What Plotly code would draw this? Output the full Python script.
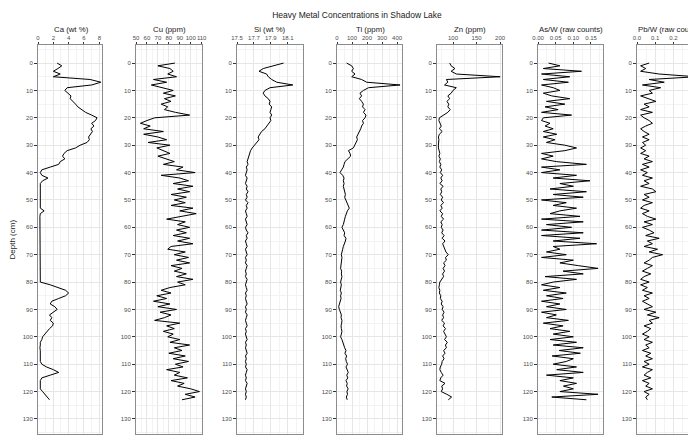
import plotly.graph_objects as go

depth_cm = [0, 1, 2, 3, 4, 5, 6, 7, 8, 9, 10, 11, 12, 13, 14, 15, 16, 17, 18, 19,
            20, 21, 22, 23, 24, 25, 26, 27, 28, 29, 30, 31, 32, 33, 34, 35, 36, 37, 38, 39,
            40, 41, 42, 43, 44, 45, 46, 47, 48, 49, 50, 51, 52, 53, 54, 55, 56, 57, 58, 59,
            60, 61, 62, 63, 64, 65, 66, 67, 68, 69, 70, 71, 72, 73, 74, 75, 76, 77, 78, 79,
            80, 81, 82, 83, 84, 85, 86, 87, 88, 89, 90, 91, 92, 93, 94, 95, 96, 97, 98, 99,
            100, 101, 102, 103, 104, 105, 106, 107, 108, 109, 110, 111, 112, 113, 114, 115,
            116, 117, 118, 119, 120, 121, 122, 123]

ca_wt = [2.5, 3.1, 2.6, 2.0, 2.9, 2.0, 6.8, 8.2, 7.0, 3.8,
         3.5, 3.9, 4.3, 4.2, 4.6, 4.9, 5.2, 5.7, 6.2, 7.0,
         7.7, 7.5, 7.0, 7.3, 6.9, 7.1, 6.8, 6.6, 6.7, 6.4,
         5.5, 4.9, 3.8, 3.4, 3.2, 3.5, 2.9, 2.7, 1.6, 0.5,
         0.3, 0.5, 1.3, 0.6, 0.3, 0.3, 0.25, 0.3, 0.25, 0.3,
         0.3, 0.25, 0.3, 0.3, 0.8, 0.3, 0.25, 0.25, 0.3, 0.25,
         0.25, 0.3, 0.25, 0.25, 0.3, 0.25, 0.25, 0.3, 0.25, 0.25,
         0.3, 0.25, 0.25, 0.3, 0.25, 0.25, 0.3, 0.25, 0.25, 0.3,
         0.3, 1.6, 2.7, 3.6, 4.0, 3.6, 2.7, 1.8, 1.6, 2.2,
         2.5, 2.0, 1.5, 1.8, 1.6, 2.0, 1.9, 1.5, 1.2, 0.9,
         0.6, 0.5, 0.3, 0.3, 0.25, 0.3, 0.3, 0.25, 0.3, 0.3,
         0.5, 1.1, 2.0, 2.7, 1.6, 0.5, 0.3, 0.3, 0.35, 0.3,
         0.6, 0.9, 1.3, 1.5]

cu_ppm = [85.5, 70, 81, 84, 79, 87, 66, 78, 64, 75,
          84, 75, 86, 76, 82, 73, 79, 76, 86, 99,
          67, 60, 54, 63, 57, 75, 57, 70, 78, 61,
          81, 69, 76, 81, 70, 78, 85, 75, 93, 87,
          104, 73, 90, 98, 84, 102, 88, 99, 82, 96,
          85, 95, 82, 102, 90, 105, 93, 78, 95, 88,
          99, 87, 96, 84, 99, 88, 102, 82, 79, 95,
          85, 98, 87, 99, 82, 92, 85, 96, 87, 102,
          88, 95, 81, 73, 82, 69, 78, 66, 81, 70,
          87, 72, 82, 76, 67, 90, 78, 85, 75, 84,
          79, 90, 81, 99, 85, 92, 80, 95, 84, 98,
          86, 93, 78, 90, 85, 97, 82, 94, 88, 100,
          108, 95, 104, 92]

si_wt = [18.05, 17.93, 17.81, 17.76, 17.85, 17.87, 17.91, 17.97, 18.16, 17.89,
         17.83, 17.81, 17.83, 17.87, 17.89, 17.88, 17.91, 17.9, 17.89, 17.91,
         17.89, 17.9, 17.88, 17.85, 17.83, 17.79, 17.77, 17.75, 17.76, 17.73,
         17.71, 17.68, 17.66, 17.65, 17.64, 17.63, 17.62, 17.63, 17.61, 17.62,
         17.61, 17.6, 17.62, 17.61, 17.6, 17.62, 17.61, 17.63, 17.61, 17.62,
         17.6, 17.63, 17.61, 17.62, 17.6, 17.61, 17.62, 17.6, 17.61, 17.62,
         17.6, 17.61, 17.63, 17.61, 17.62, 17.6, 17.61, 17.62, 17.6, 17.61,
         17.62, 17.6, 17.61, 17.6, 17.62, 17.61, 17.6, 17.61, 17.6, 17.62,
         17.61, 17.6, 17.61, 17.62, 17.6, 17.61, 17.6, 17.61, 17.62, 17.6,
         17.61, 17.6, 17.62, 17.61, 17.6, 17.61, 17.62, 17.6, 17.61, 17.6,
         17.61, 17.62, 17.6, 17.61, 17.6, 17.61, 17.62, 17.6, 17.61, 17.6,
         17.61, 17.6, 17.62, 17.61, 17.6, 17.61, 17.6, 17.62, 17.61, 17.6,
         17.61, 17.6, 17.61, 17.6]

ti_ppm = [64, 98, 109, 98, 120, 98, 164, 198, 420, 210,
          176, 153, 164, 149, 164, 176, 170, 187, 176, 193,
          187, 170, 176, 164, 158, 149, 136, 131, 136, 127,
          120, 109, 76, 87, 91, 69, 53, 47, 42, 31,
          20, 38, 47, 42, 47, 42, 47, 53, 56, 51,
          60, 64, 76, 82, 69, 60, 56, 51, 47, 42,
          33, 42, 51, 47, 60, 56, 47, 42, 38, 33,
          29, 33, 31, 27, 29, 24, 31, 29, 33, 27,
          24, 29, 27, 22, 29, 24, 27, 22, 20, 11,
          16, 24, 29, 27, 33, 31, 27, 29, 33, 29,
          24, 33, 38, 47, 51, 60, 53, 64, 58, 62,
          70, 60, 68, 75, 65, 72, 60, 68, 64, 74,
          66, 70, 62, 68]

zn_ppm = [93, 96, 104, 96, 107, 200, 86, 89, 82, 107,
          100, 96, 89, 93, 87, 91, 89, 94, 89, 79,
          71, 70, 73, 75, 71, 77, 71, 69, 70, 69,
          69, 69, 70, 72, 70, 73, 71, 74, 72, 76,
          73, 78, 74, 77, 72, 79, 74, 76, 73, 78,
          75, 80, 74, 77, 72, 78, 75, 80, 74, 77,
          75, 79, 76, 81, 77, 83, 78, 80, 82, 85,
          90, 84, 86, 80, 83, 79, 82, 78, 80, 76,
          72, 71, 70, 72, 71, 74, 73, 77, 75, 79,
          77, 81, 78, 80, 76, 82, 79, 84, 80, 83,
          86, 82, 88, 84, 86, 80, 83, 78, 81, 77,
          76, 73, 72, 75, 79, 74, 72, 83, 76, 78,
          75, 87, 97, 90]

as_w = [0.030, 0.062, 0.015, 0.123, 0.010, 0.090, 0.015, 0.086, 0.010, 0.043,
        0.062, 0.015, 0.039, 0.090, 0.024, 0.076, 0.020, 0.057, 0.010, 0.095,
        0.015, 0.010, 0.034, 0.020, 0.043, 0.015, 0.053, 0.015, 0.048, 0.024,
        0.076, 0.109, 0.076, 0.010, 0.043, 0.010, 0.052, 0.137, 0.010, 0.062,
        0.010, 0.109, 0.043, 0.147, 0.062, 0.100, 0.034, 0.137, 0.043, 0.128,
        0.010, 0.080, 0.043, 0.109, 0.062, 0.034, 0.119, 0.010, 0.128, 0.024,
        0.095, 0.010, 0.128, 0.010, 0.119, 0.043, 0.166, 0.043, 0.062, 0.024,
        0.080, 0.010, 0.100, 0.062, 0.114, 0.170, 0.071, 0.128, 0.020, 0.109,
        0.043, 0.010, 0.062, 0.015, 0.080, 0.024, 0.071, 0.010, 0.062, 0.024,
        0.080, 0.010, 0.052, 0.024, 0.086, 0.015, 0.071, 0.034, 0.090, 0.043,
        0.100, 0.034, 0.109, 0.043, 0.128, 0.060, 0.120, 0.040, 0.100, 0.080,
        0.043, 0.109, 0.053, 0.128, 0.024, 0.100, 0.062, 0.109, 0.072, 0.100,
        0.062, 0.170, 0.039, 0.137]

pb_w = [0.067, 0.020, 0.048, 0.020, 0.122, 0.326, 0.067, 0.150, 0.030, 0.130,
        0.067, 0.085, 0.020, 0.067, 0.104, 0.039, 0.067, 0.020, 0.085, 0.020,
        0.039, 0.067, 0.085, 0.048, 0.020, 0.039, 0.067, 0.030, 0.067, 0.030,
        0.048, 0.020, 0.048, 0.020, 0.067, 0.039, 0.085, 0.030, 0.067, 0.020,
        0.057, 0.030, 0.085, 0.039, 0.067, 0.020, 0.085, 0.104, 0.039, 0.067,
        0.030, 0.085, 0.039, 0.020, 0.067, 0.030, 0.057, 0.104, 0.039, 0.085,
        0.030, 0.067, 0.094, 0.048, 0.122, 0.057, 0.085, 0.039, 0.113, 0.067,
        0.141, 0.085, 0.067, 0.039, 0.085, 0.057, 0.030, 0.076, 0.039, 0.020,
        0.067, 0.020, 0.057, 0.030, 0.085, 0.039, 0.067, 0.030, 0.057, 0.085,
        0.039, 0.104, 0.057, 0.122, 0.067, 0.085, 0.039, 0.076, 0.057, 0.030,
        0.067, 0.039, 0.085, 0.048, 0.067, 0.030, 0.076, 0.048, 0.085, 0.039,
        0.067, 0.030, 0.085, 0.057, 0.039, 0.076, 0.030, 0.067, 0.048, 0.085,
        0.039, 0.067, 0.048, 0.057]

panel_titles = ["Ca (wt %)", "Cu (ppm)", "Si (wt %)", "Ti (ppm)", "Zn (ppm)",
                "As/W (raw counts)", "Pb/W (raw counts)"]
series = [ca_wt, cu_ppm, si_wt, ti_ppm, zn_ppm, as_w, pb_w]
x_tickvals = [[0, 2, 4, 6, 8], [50, 60, 70, 80, 90, 100, 110], [17.5, 17.7, 17.9, 18.1],
              [0, 100, 200, 300, 400], [100, 150, 200], [0.00, 0.05, 0.10, 0.15],
              [0.0, 0.1, 0.2, 0.3]]
x_ticktext = [["0", "2", "4", "6", "8"], ["50", "60", "70", "80", "90", "100", "110"],
              ["17.5", "17.7", "17.9", "18.1"], ["0", "100", "200", "300", "400"],
              ["100", "150", "200"], ["0.00", "0.05", "0.10", "0.15"],
              ["0.0", "0.1", "0.2", "0.3"]]
x_ranges = [[0, 8.35], [50, 110.3], [17.5, 18.28], [0, 433], [66, 204], [0, 0.184], [0, 0.325]]
x_minor = [1, 5, 0.1, 50, 25, 0.025, 0.05]
y_tickvals = [0, 10, 20, 30, 40, 50, 60, 70, 80, 90, 100, 110, 120, 130]

# page has an 8px body margin; positions below are in window pixels
OFF = 8
W, H = 696 - OFF, 436 - OFF
lefts = [38, 136, 237, 337, 437, 538, 637]
rights = [102, 202, 303, 402, 502, 603, 696]
top_px, bottom_px = 45 - OFF, 434 - OFF


def fx(px):
    return (px - OFF) / W


FONT = "Liberation Sans, Arial, sans-serif"
GRID = "#e6e6e6"
MINOR = "#f3f3f3"

fig = go.Figure()
layout = dict(
    width=W, height=H, plot_bgcolor="white", paper_bgcolor="white",
    margin=dict(l=0, r=0, t=top_px, b=H - bottom_px, autoexpand=False),
    showlegend=False,
    font=dict(family=FONT, size=6, color="#4d4d4d"),
    title=dict(text="Heavy Metal Concentrations in Shadow Lake", x=fx(357), xanchor="center",
               y=1 - (15 - OFF) / H, yanchor="middle",
               font=dict(size=8.5, color="#1a1a1a", family=FONT)),
)
annotations = []
for i in range(7):
    n = "" if i == 0 else str(i + 1)
    fig.add_trace(go.Scatter(x=series[i], y=depth_cm, mode="lines",
                             line=dict(color="black", width=1),
                             xaxis="x" + n, yaxis="y" + n, hoverinfo="x+y"))
    layout["xaxis" + n] = dict(
        domain=[fx(lefts[i]), min(1.0, fx(rights[i]))], anchor="y" + n, side="top",
        range=x_ranges[i], tickvals=x_tickvals[i], ticktext=x_ticktext[i],
        ticks="outside", ticklen=2, tickcolor="#333", tickwidth=0.8, tickangle=0,
        tickfont=dict(size=6, color="#4d4d4d"), automargin=False,
        showgrid=True, gridcolor=GRID, gridwidth=0.8,
        minor=dict(dtick=x_minor[i], tick0=0, showgrid=True, gridcolor=MINOR, gridwidth=0.6),
        showline=True, mirror=True, linecolor="#8c8c8c", linewidth=1, zeroline=False,
    )
    layout["yaxis" + n] = dict(
        domain=[0, 1], anchor="x" + n, range=[135.5, -6.6], automargin=False,
        tickvals=y_tickvals, ticks="outside", ticklen=3, tickcolor="#333", tickwidth=0.8,
        tickfont=dict(size=6, color="#4d4d4d"),
        showgrid=True, gridcolor=GRID, gridwidth=0.8,
        minor=dict(dtick=5, tick0=0, showgrid=True, gridcolor=MINOR, gridwidth=0.6),
        showline=True, mirror=True, linecolor="#8c8c8c", linewidth=1, zeroline=False,
    )
    annotations.append(dict(text=panel_titles[i], xref="paper", yref="paper",
                            x=fx(lefts[i] + 33), y=1 + (45 - 29) / (bottom_px - top_px),
                            xanchor="center", yanchor="middle", showarrow=False,
                            font=dict(size=7.8, color="#1a1a1a", family=FONT)))

annotations.append(dict(text="Depth (cm)", xref="paper", yref="paper", x=fx(12), y=0.5,
                        textangle=-90, xanchor="center", yanchor="middle", showarrow=False,
                        font=dict(size=8, color="#1a1a1a", family=FONT)))
layout["annotations"] = annotations
fig.update_layout(**layout)
fig.write_html("out.html")
